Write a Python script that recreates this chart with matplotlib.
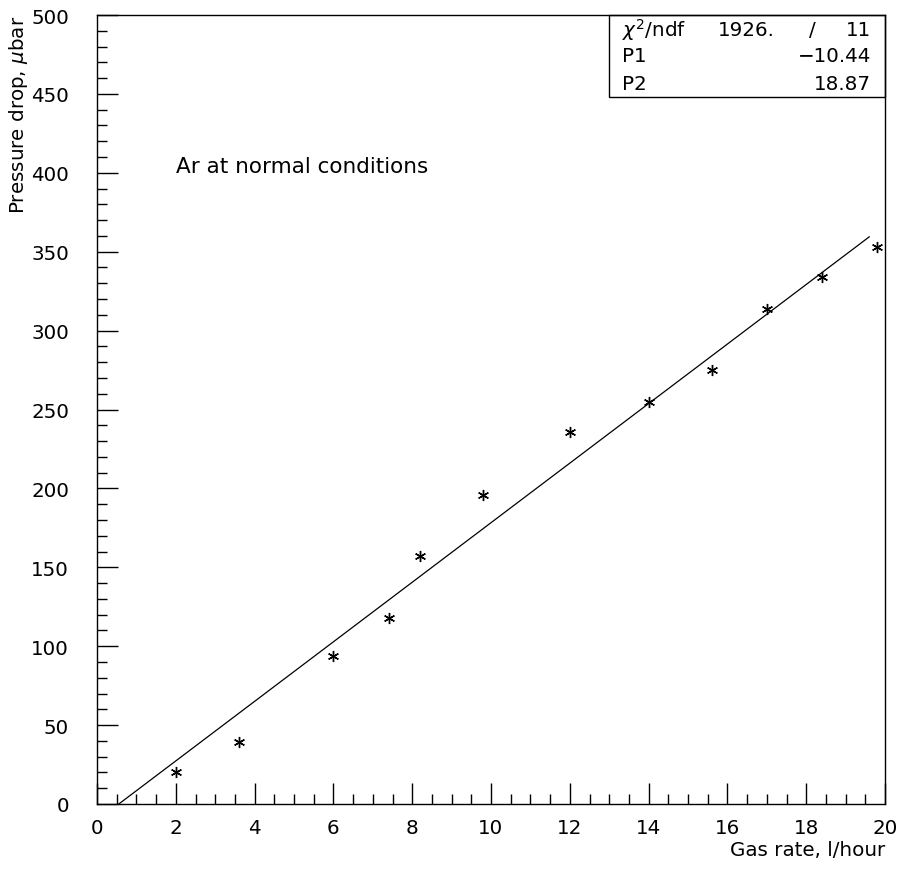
import numpy as np
import matplotlib
matplotlib.use('Agg')
import matplotlib.pyplot as plt
from matplotlib.ticker import MultipleLocator

# measured points
gas_rate = [2.0, 3.6, 6.0, 7.4, 8.2, 9.8, 12.0, 14.0, 15.6, 17.0, 18.4, 19.8]
pressure = [20, 39, 94, 118, 157, 196, 236, 255, 275, 314, 334, 353]

# linear fit parameters
p1 = -10.44
p2 = 18.87
chi2 = "1926."
ndf = "11"
fit_range = [-p1 / p2, 19.6]

plt.rcParams['font.family'] = ['DejaVu Sans']
fs = 14.3

fig = plt.figure(figsize=(9.04, 8.7), dpi=100)
ax = fig.add_axes([97/904, 65/870, 788/904, 789/870])

xf = np.array(fit_range)
ax.plot(xf, p1 + p2 * xf, color='black', lw=0.9)
ax.plot(gas_rate, pressure, ls='none', marker=(6, 2, 0), ms=8, mew=1.0, color='black')

ax.set_xlim(0, 20)
ax.set_ylim(0, 500)
ax.xaxis.set_major_locator(MultipleLocator(2))
ax.xaxis.set_minor_locator(MultipleLocator(0.5))
ax.yaxis.set_major_locator(MultipleLocator(50))
ax.yaxis.set_minor_locator(MultipleLocator(10))
ax.tick_params(which='both', direction='in', top=False, right=False, labelsize=fs, width=1)
ax.tick_params(which='major', length=15, pad=10)
ax.tick_params(which='minor', length=7)
ax.tick_params(axis='y', which='major', pad=20)
for s in ax.spines.values():
    s.set_linewidth(1)

ax.set_xlabel('Gas rate, l/hour', fontsize=fs, loc='right')
ax.xaxis.set_label_coords(1.0, -0.046)
ax.set_ylabel(r'Pressure drop, $\mu$bar', fontsize=fs, loc='top')
ax.yaxis.label.set_va('center')
ax.yaxis.set_label_coords((19 - 97) / 788, 1.0)

ax.text(2.0, 404, 'Ar at normal conditions', fontsize=15.5, ha='left', va='center')

# stats box
bx0, by0 = 0.6497, 0.896
ax.add_patch(plt.Rectangle((bx0, by0), 1 - bx0, 1 - by0, transform=ax.transAxes,
                           fill=False, lw=1, color='black', clip_on=False))
xl = (622 - 97) / 788
xr = (871 - 97) / 788
rows = [(805 - 30) / 789, (805 - 57) / 789, (805 - 84) / 789]
ax.text(xl, rows[0], r'$\chi^2$/ndf', transform=ax.transAxes, fontsize=fs, va='center')
ax.text((775 - 97) / 788, rows[0], chi2, transform=ax.transAxes, fontsize=fs, va='center', ha='right')
ax.text((812 - 97) / 788, rows[0], '/', transform=ax.transAxes, fontsize=fs, va='center', ha='center')
ax.text(xr, rows[0], ndf, transform=ax.transAxes, fontsize=fs, va='center', ha='right')
ax.text(xl, rows[1], 'P1', transform=ax.transAxes, fontsize=fs, va='center')
ax.text(xr, rows[1], '\u2212%.2f' % abs(p1), transform=ax.transAxes, fontsize=fs, va='center', ha='right')
ax.text(xl, rows[2], 'P2', transform=ax.transAxes, fontsize=fs, va='center')
ax.text(xr, rows[2], '%.2f' % p2, transform=ax.transAxes, fontsize=fs, va='center', ha='right')

fig.savefig('out.png', dpi=100)
